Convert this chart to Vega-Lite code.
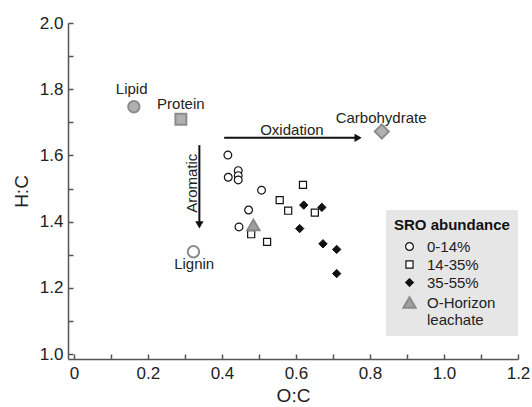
{
  "$schema": "https://vega.github.io/schema/vega-lite/v6.json",
  "width": 450,
  "height": 336,
  "autosize": {"type": "none"},
  "padding": {"left": 68, "top": 23, "right": 14, "bottom": 48},
  "config": {
    "view": {"stroke": null},
    "font": "Liberation Sans",
    "axis": {
      "grid": false,
      "domainColor": "#555",
      "domainWidth": 1.5,
      "tickColor": "#555",
      "tickWidth": 1.5,
      "tickSize": -5,
      "labelColor": "#222",
      "labelFont": "Liberation Sans",
      "labelFontSize": 17,
      "labelOverlap": false,
      "labelFlush": false,
      "titleColor": "#222",
      "titleFont": "Liberation Sans",
      "titleFontSize": 19,
      "titleFontWeight": "normal"
    },
    "legend": {
      "fillColor": "#e6e6e6",
      "padding": 8,
      "titleFont": "Liberation Sans",
      "titleFontSize": 15,
      "titleFontWeight": "bold",
      "titleColor": "#111",
      "titlePadding": 6,
      "labelFont": "Liberation Sans",
      "labelFontSize": 15,
      "labelColor": "#222",
      "rowPadding": 2,
      "symbolOffset": 8,
      "labelOffset": 10,
      "labelLimit": 0
    }
  },
  "datasets": {
    "samples": [
      {"group": "0-14%", "oc": 0.416, "hc": 1.601},
      {"group": "0-14%", "oc": 0.417, "hc": 1.534},
      {"group": "0-14%", "oc": 0.444, "hc": 1.554},
      {"group": "0-14%", "oc": 0.444, "hc": 1.539},
      {"group": "0-14%", "oc": 0.444, "hc": 1.526},
      {"group": "0-14%", "oc": 0.507, "hc": 1.495},
      {"group": "0-14%", "oc": 0.472, "hc": 1.435},
      {"group": "0-14%", "oc": 0.446, "hc": 1.384},
      {"group": "14-35%", "oc": 0.619, "hc": 1.511},
      {"group": "14-35%", "oc": 0.556, "hc": 1.465},
      {"group": "14-35%", "oc": 0.579, "hc": 1.433},
      {"group": "14-35%", "oc": 0.651, "hc": 1.427},
      {"group": "14-35%", "oc": 0.479, "hc": 1.362},
      {"group": "14-35%", "oc": 0.522, "hc": 1.339},
      {"group": "35-55%", "oc": 0.621, "hc": 1.450},
      {"group": "35-55%", "oc": 0.670, "hc": 1.443},
      {"group": "35-55%", "oc": 0.610, "hc": 1.379},
      {"group": "35-55%", "oc": 0.673, "hc": 1.333},
      {"group": "35-55%", "oc": 0.710, "hc": 1.316},
      {"group": "35-55%", "oc": 0.710, "hc": 1.243},
      {"group": "O-Horizon leachate", "oc": 0.485, "hc": 1.390}
    ],
    "compounds": [
      {"name": "Lipid", "oc": 0.162, "hc": 1.747, "label_oc": 0.156, "label_hc": 1.801},
      {"name": "Protein", "oc": 0.289, "hc": 1.709, "label_oc": 0.289, "label_hc": 1.754},
      {"name": "Lignin", "oc": 0.323, "hc": 1.309, "label_oc": 0.325, "label_hc": 1.272},
      {"name": "Carbohydrate", "oc": 0.832, "hc": 1.672, "label_oc": 0.830, "label_hc": 1.713}
    ],
    "arrows": [
      {"name": "Oxidation", "oc": 0.406, "hc": 1.653, "oc_end": 0.768, "hc_end": 1.653, "label_oc": 0.589, "label_hc": 1.677},
      {"name": "Aromatic", "oc": 0.339, "hc": 1.631, "oc_end": 0.339, "hc_end": 1.390, "label_oc": 0.318, "label_hc": 1.516}
    ]
  },
  "encoding": {
    "x": {
      "field": "oc",
      "type": "quantitative",
      "title": "O:C",
      "scale": {"domain": [-0.016, 1.2], "nice": false, "zero": false},
      "axis": {
        "values": [0, 0.1, 0.2, 0.3, 0.4, 0.5, 0.6, 0.7, 0.8, 0.9, 1.0, 1.1, 1.2],
        "labelExpr": "round(datum.value*10) % 2 == 0 ? (datum.value == 0 ? '0' : format(datum.value, '.1f')) : ''",
        "labelPadding": 11,
        "titlePadding": 5
      }
    },
    "y": {
      "field": "hc",
      "type": "quantitative",
      "title": "H:C",
      "scale": {"domain": [0.985, 2.0], "nice": false, "zero": false},
      "axis": {
        "values": [1.0, 1.1, 1.2, 1.3, 1.4, 1.5, 1.6, 1.7, 1.8, 1.9, 2.0],
        "labelExpr": "round(datum.value*10) % 2 == 0 ? format(datum.value, '.1f') : ''",
        "labelPadding": 10,
        "titlePadding": 8
      }
    }
  },
  "layer": [
    {
      "data": {"name": "arrows"},
      "mark": {"type": "rule", "color": "#111", "strokeWidth": 2},
      "encoding": {
        "x2": {"field": "oc_end"},
        "y2": {"field": "hc_end"}
      }
    },
    {
      "data": {"name": "arrows"},
      "mark": {"type": "point", "filled": true, "color": "#111", "opacity": 1, "size": 70},
      "encoding": {
        "x": {"field": "oc_end", "type": "quantitative"},
        "y": {"field": "hc_end", "type": "quantitative"},
        "shape": {"condition": {"test": "datum.name == 'Oxidation'", "value": "triangle-right"}, "value": "triangle-down"}
      }
    },
    {
      "data": {"name": "arrows"},
      "mark": {"type": "text", "fontSize": 15, "color": "#222", "baseline": "middle", "align": "center"},
      "encoding": {
        "x": {"field": "label_oc", "type": "quantitative"},
        "y": {"field": "label_hc", "type": "quantitative"},
        "text": {"field": "name"},
        "angle": {"condition": {"test": "datum.name == 'Aromatic'", "value": 270}, "value": 0}
      }
    },
    {
      "data": {"name": "compounds"},
      "mark": {"type": "point", "opacity": 1, "strokeWidth": 2, "stroke": "#8c8c8c"},
      "encoding": {
        "shape": {
          "condition": [
            {"test": "datum.name == 'Protein'", "value": "square"},
            {"test": "datum.name == 'Carbohydrate'", "value": "diamond"}
          ],
          "value": "circle"
        },
        "fill": {"condition": {"test": "datum.name == 'Lignin'", "value": "#ffffff"}, "value": "#b0b0b0"},
        "size": {
          "condition": [
            {"test": "datum.name == 'Carbohydrate'", "value": 200},
            {"test": "datum.name == 'Protein'", "value": 120}
          ],
          "value": 130
        }
      }
    },
    {
      "data": {"name": "compounds"},
      "mark": {"type": "text", "fontSize": 15, "color": "#222", "baseline": "middle", "align": "center"},
      "encoding": {
        "x": {"field": "label_oc", "type": "quantitative"},
        "y": {"field": "label_hc", "type": "quantitative"},
        "text": {"field": "name"}
      }
    },
    {
      "data": {"name": "samples"},
      "mark": {"type": "point", "opacity": 1},
      "encoding": {
        "shape": {
          "field": "group", "type": "nominal", "title": "SRO abundance",
          "scale": {"domain": ["0-14%", "14-35%", "35-55%", "O-Horizon leachate"], "range": ["circle", "square", "diamond", "triangle-up"]},
          "legend": {
            "orient": "none",
            "legendX": 318,
            "legendY": 187,
            "labelExpr": "datum.label == 'O-Horizon leachate' ? ['O-Horizon', 'leachate'] : datum.label"
          }
        },
        "fill": {
          "field": "group", "type": "nominal", "title": "SRO abundance",
          "scale": {"domain": ["0-14%", "14-35%", "35-55%", "O-Horizon leachate"], "range": ["#ffffff", "#ffffff", "#111111", "#a0a0a0"]}
        },
        "stroke": {
          "field": "group", "type": "nominal", "title": "SRO abundance",
          "scale": {"domain": ["0-14%", "14-35%", "35-55%", "O-Horizon leachate"], "range": ["#111111", "#111111", "#111111", "#8a8a8a"]}
        },
        "strokeWidth": {
          "field": "group", "type": "nominal", "title": "SRO abundance",
          "scale": {"type": "ordinal", "domain": ["0-14%", "14-35%", "35-55%", "O-Horizon leachate"], "range": [1.2, 1.2, 1, 2]}
        },
        "size": {
          "field": "group", "type": "nominal", "title": "SRO abundance",
          "scale": {"type": "ordinal", "domain": ["0-14%", "14-35%", "35-55%", "O-Horizon leachate"], "range": [60, 50, 70, 150]}
        }
      }
    }
  ]
}
